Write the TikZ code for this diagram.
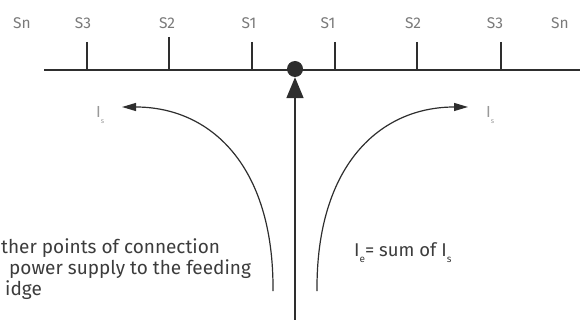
\documentclass[tikz,border=0pt]{standalone}
\usepackage{fontspec}
\setmainfont{Fira Sans}
\usetikzlibrary{arrows.meta}
\definecolor{ink}{HTML}{2E2E2E}
\definecolor{txt}{HTML}{3C3C3C}
\definecolor{lbl}{HTML}{7A7A7A}
\definecolor{sub}{HTML}{999999}
\tikzset{
  busline/.style={draw=ink,line width=1.5pt},
  tickline/.style={draw=ink,line width=1.3pt},
  slabel/.style={text=lbl,font=\fontsize{15.5}{15.5}\selectfont,inner sep=0pt,anchor=base},
  islabel/.style={text=sub,font=\fontsize{16}{16}\selectfont,inner sep=0pt,anchor=base west},
  flow/.style={draw=ink,line width=1.2pt,-{Triangle[length=14pt,width=8pt]}},
  feedline/.style={draw=ink,line width=1.8pt,-{Triangle[length=21pt,width=17pt]}},
  maintext/.style={text=txt,font=\fontsize{19}{21}\selectfont,inner sep=0pt},
}
\begin{document}
\begin{tikzpicture}[x=1pt,y=-1pt]
\useasboundingbox (0,0) rectangle (580,320);
% bus line
\coordinate (busL) at (44,70);
\coordinate (busR) at (580,70);
\draw[busline] (busL) -- (busR);
% ticks
\foreach \x/\t in {87/42,169/37,252/42,335/42,417/42,501/42}{
  \draw[tickline] (\x,\t) -- (\x,70);
}
% labels
\node[slabel] (snl) at (22,28.5) {Sn};
\node[slabel] (s3l) at (83,28.5) {S3};
\node[slabel] (s2l) at (167,28.5) {S2};
\node[slabel] (s1l) at (249,28.5) {S1};
\node[slabel] (s1r) at (328,28.5) {S1};
\node[slabel] (s2r) at (413,28.5) {S2};
\node[slabel] (s3r) at (495,28.5) {S3};
\node[slabel] (snr) at (560,28.5) {Sn};
% feeding point
\node[circle,fill=ink,minimum size=16pt,inner sep=0pt] (dot) at (295,69) {};
\coordinate (feed) at (295,322);
\draw[feedline] (feed) -- (dot.south);
% current arrows
\coordinate (lstart) at (273,291);
\coordinate (lend) at (122,107);
\coordinate (rstart) at (317,291);
\coordinate (rend) at (468,107);
\draw[flow] (lstart) .. controls (274,165) and (210,107) .. (lend);
\draw[flow] (rstart) .. controls (316,165) and (380,107) .. (rend);
% Is labels
\node[islabel] (isl) at (96,117.5) {I\raisebox{-6pt}{\fontsize{7}{7}\selectfont s}};
\node[islabel] (isr) at (486,117.5) {I\raisebox{-6pt}{\fontsize{7}{7}\selectfont s}};
% Ie text
\node[maintext,anchor=base west,font=\fontsize{18.5}{21}\selectfont] (ie) at (354,256) {I\raisebox{-6pt}{\fontsize{10}{10}\selectfont e}= sum of I\raisebox{-6pt}{\fontsize{10}{10}\selectfont s}};
% other points text (left part cut off as in the reference)
\node[maintext,anchor=north west,align=left] (other) at (1,238) {ther points of connection\\\hspace*{8pt}power supply to the feeding\\\hspace*{4pt}idge};
\end{tikzpicture}
\end{document}
